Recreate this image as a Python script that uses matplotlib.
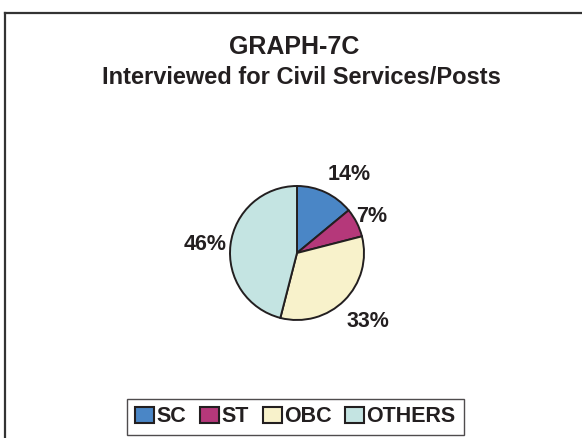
import numpy as np
import matplotlib
matplotlib.use('Agg')
import matplotlib.pyplot as plt
from matplotlib.lines import Line2D

plt.rcParams['font.family'] = ['Liberation Sans', 'DejaVu Sans']

categories = ["SC", "ST", "OBC", "OTHERS"]
shares = [14, 7, 33, 46]
labels = ["14%", "7%", "33%", "46%"]
colors = ["#4a86c6", "#b5387a", "#f8f2cb", "#c4e4e2"]

W, H = 582, 438
fig = plt.figure(figsize=(W / 100, H / 100), dpi=100)


def fx(px):
    return px / W


def fy(py):
    return 1 - py / H


# outer frame, cut off at right and bottom
fig.add_artist(Line2D([fx(5), fx(5)], [fy(13), fy(H + 5)], color="#333333", lw=1.6))
fig.add_artist(Line2D([fx(5), fx(W + 5)], [fy(13), fy(13)], color="#333333", lw=1.6))

fig.text(fx(294), fy(47), "GRAPH-7C", ha="center", va="center",
         fontsize=18, fontweight="bold", color="#231f20")
fig.text(fx(301.5), fy(78), "Interviewed for Civil Services/Posts", ha="center", va="center",
         fontsize=17, fontweight="bold", color="#231f20")

# pie
cx, cy, r = 297, 253, 67
ax = fig.add_axes([fx(cx - r), fy(cy + r), 2 * r / W, 2 * r / H])
wedges, _ = ax.pie(shares, colors=colors, startangle=90, counterclock=False,
                   wedgeprops=dict(edgecolor="#231f20", linewidth=1.4))
ax.set_xlim(-1, 1)
ax.set_ylim(-1, 1)
ax.set_aspect("equal")

# label offsets from the pie centre, in pixels (excel-style placement)
label_off = [(52, 78), (75, 37), (70.5, -68.5), (-91.5, 9)]
for lab, (dx, dy) in zip(labels, label_off):
    ax.text(dx / r, dy / r, lab, ha="center", va="center",
            fontsize=15.5, fontweight="bold", color="#231f20", clip_on=False)

leg = fig.legend(wedges, categories, loc="center", bbox_to_anchor=(fx(295.5), fy(417)),
                 ncol=4, frameon=True, fancybox=False, edgecolor="#231f20",
                 prop=dict(size=15.5, weight="bold"), handlelength=0.88, handleheight=0.8,
                 handletextpad=0.1, columnspacing=0.65, borderpad=0.37, borderaxespad=0)
leg.get_frame().set_linewidth(1.0)
for t in leg.get_texts():
    t.set_color("#231f20")
for h in leg.legend_handles:
    h.set_edgecolor("#231f20")
    h.set_linewidth(1.5)

fig.savefig("out.png", dpi=100, facecolor="white")
